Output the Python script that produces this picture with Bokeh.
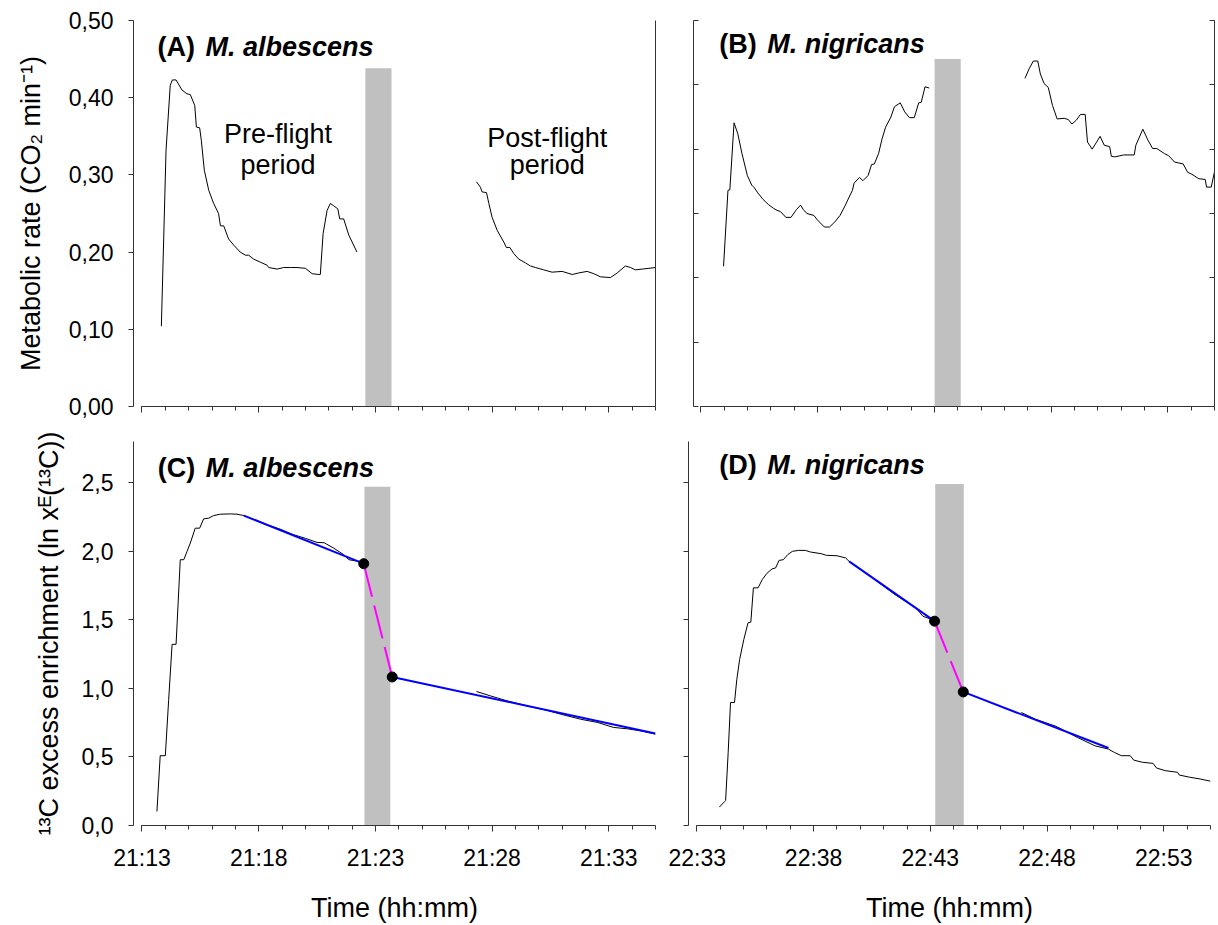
from bokeh.plotting import figure
from bokeh.layouts import column, row
from bokeh.models import Range1d, FixedTicker, Label, LinearAxis, CustomLabelingPolicy
from bokeh.embed import file_html
from bokeh.resources import INLINE

FONT = "Liberation Sans"
AX = "#333333"

# ---------------- data (minutes after the first tick) ----------------
x_ticks = [0, 5, 10, 15, 20]
x_minor = list(range(0, 23))
x_labels_left = ["21:13", "21:18", "21:23", "21:28", "21:33"]
x_labels_right = ["22:33", "22:38", "22:43", "22:48", "22:53"]

yA_ticks = [0.0, 0.1, 0.2, 0.3, 0.4, 0.5]
yA_labels = ["0,00", "0,10", "0,20", "0,30", "0,40", "0,50"]
yB_ticks = [0.0, 0.1, 0.2, 0.3, 0.4, 0.5, 0.6]
yC_ticks = [0.0, 0.5, 1.0, 1.5, 2.0, 2.5]
yC_labels = ["0,0", "0,5", "1,0", "1,5", "2,0", "2,5"]

# Panel A: M. albescens metabolic rate
A_pre_t = [0.83, 1.03, 1.21, 1.30, 1.46, 1.71, 1.93, 2.07, 2.26, 2.33, 2.47, 2.54, 2.67, 2.86,
           3.07, 3.28, 3.36, 3.50, 3.71, 3.93, 4.21, 4.43, 4.57, 4.78, 5.07, 5.36, 5.43, 5.79,
           6.07, 6.36, 6.64, 7.00, 7.29, 7.57, 7.64, 7.76, 7.93, 8.07, 8.21, 8.39, 8.47, 8.64,
           8.86, 9.21]
A_pre_v = [0.104, 0.332, 0.416, 0.423, 0.423, 0.410, 0.405, 0.404, 0.390, 0.362, 0.361, 0.345,
           0.306, 0.280, 0.263, 0.250, 0.234, 0.234, 0.217, 0.209, 0.200, 0.196, 0.196, 0.191,
           0.187, 0.183, 0.180, 0.178, 0.180, 0.180, 0.180, 0.179, 0.172, 0.171, 0.171, 0.224,
           0.254, 0.263, 0.260, 0.256, 0.243, 0.243, 0.222, 0.200]
A_post_t = [14.33, 14.50, 14.57, 14.76, 14.86, 15.00, 15.22, 15.50, 15.61, 15.76, 15.93, 16.14,
            16.43, 16.64, 16.86, 17.21, 17.57, 18.00, 18.43, 18.71, 19.07, 19.36, 19.64, 20.07,
            20.36, 20.71, 20.93, 21.14, 21.43, 22.00]
A_post_v = [0.291, 0.284, 0.278, 0.277, 0.263, 0.245, 0.228, 0.213, 0.206, 0.206, 0.198, 0.191,
            0.186, 0.182, 0.180, 0.177, 0.174, 0.175, 0.171, 0.173, 0.175, 0.172, 0.168, 0.167,
            0.173, 0.182, 0.180, 0.177, 0.178, 0.180]
A_flight = [9.57, 10.69]
A_flight_top = 0.438

# Panel B: M. nigricans metabolic rate
B_pre_t = [0.97, 1.16, 1.24, 1.42, 1.58, 1.76, 1.99, 2.18, 2.29, 2.44, 2.66, 2.89, 3.11, 3.26,
           3.41, 3.64, 3.86, 4.09, 4.27, 4.39, 4.54, 4.84, 4.99, 5.29, 5.51, 5.74, 5.96, 6.19,
           6.33, 6.49, 6.56, 6.79, 6.94, 7.16, 7.31, 7.43, 7.61, 7.76, 7.91, 8.14, 8.29, 8.54,
           8.73, 8.93, 9.14, 9.33, 9.44, 9.60, 9.78]
B_pre_v = [0.218, 0.336, 0.337, 0.441, 0.424, 0.393, 0.359, 0.344, 0.340, 0.332, 0.322, 0.314,
           0.308, 0.305, 0.303, 0.294, 0.294, 0.306, 0.313, 0.306, 0.300, 0.297, 0.290, 0.279,
           0.279, 0.287, 0.297, 0.313, 0.324, 0.336, 0.347, 0.356, 0.351, 0.359, 0.376, 0.377,
           0.393, 0.416, 0.434, 0.450, 0.466, 0.472, 0.458, 0.449, 0.449, 0.472, 0.473, 0.497,
           0.495]
B_post_t = [13.88, 14.06, 14.24, 14.43, 14.54, 14.70, 14.88, 15.06, 15.26, 15.56, 15.74, 15.89,
            16.08, 16.26, 16.46, 16.56, 16.76, 16.95, 17.10, 17.28, 17.51, 17.58, 17.73, 18.11,
            18.56, 18.63, 18.93, 19.15, 19.35, 19.53, 19.86, 20.03, 20.29, 20.66, 20.85, 21.03,
            21.33, 21.60, 21.66, 21.86, 22.00]
B_post_v = [0.510, 0.525, 0.537, 0.537, 0.517, 0.502, 0.496, 0.468, 0.447, 0.448, 0.446, 0.439,
            0.445, 0.454, 0.454, 0.411, 0.400, 0.411, 0.420, 0.406, 0.404, 0.389, 0.388, 0.391,
            0.391, 0.406, 0.431, 0.414, 0.401, 0.401, 0.393, 0.390, 0.380, 0.377, 0.364, 0.361,
            0.354, 0.353, 0.341, 0.341, 0.365]
B_flight = [10.01, 11.13]
B_flight_top = 0.54

# Panel C: M. albescens 13C excess enrichment
C_pre_t = [0.64, 0.78, 1.00, 1.14, 1.29, 1.46, 1.64, 1.79, 1.93, 2.07, 2.28, 2.47, 2.64, 2.86,
           3.07, 3.36, 3.78, 4.07, 4.36, 4.90, 5.36, 5.90, 6.50, 7.00, 7.50, 7.80, 8.21, 8.64,
           8.86, 9.29, 9.50]
C_pre_v = [0.102, 0.509, 0.509, 0.909, 1.321, 1.321, 1.938, 1.938, 1.999, 2.059, 2.168, 2.168,
           2.236, 2.241, 2.260, 2.270, 2.272, 2.270, 2.260, 2.226, 2.193, 2.162, 2.120, 2.094,
           2.064, 2.062, 2.023, 1.975, 1.938, 1.926, 1.909]
C_post_t = [14.33, 14.93, 15.64, 16.50, 17.30, 17.93, 18.79, 19.50, 20.21, 20.80, 21.36, 22.00]
C_post_v = [0.977, 0.945, 0.909, 0.872, 0.842, 0.812, 0.775, 0.752, 0.715, 0.705, 0.690, 0.666]
C_fit_pre_t = [4.36, 9.50]
C_fit_pre_v = [2.260, 1.909]
C_fit_post_t = [10.72, 22.00]
C_fit_post_v = [1.083, 0.671]
C_flight = [9.53, 10.64]
C_flight_top = 2.47

# Panel D: M. nigricans 13C excess enrichment
D_pre_t = [0.96, 1.19, 1.23, 1.34, 1.44, 1.61, 1.71, 1.83, 2.01, 2.19, 2.31, 2.42, 2.62, 2.80,
           2.99, 3.22, 3.37, 3.52, 3.70, 3.89, 4.09, 4.35, 4.65, 4.87, 5.32, 5.55, 6.00, 6.37,
           6.52, 7.43, 8.48, 9.38, 9.68, 9.98, 10.18]
D_pre_v = [0.134, 0.175, 0.182, 0.533, 0.897, 0.897, 1.066, 1.211, 1.357, 1.478, 1.483, 1.733,
           1.733, 1.793, 1.837, 1.871, 1.878, 1.933, 1.938, 1.975, 1.999, 2.006, 2.006, 1.994,
           1.982, 1.970, 1.967, 1.951, 1.926, 1.817, 1.684, 1.587, 1.526, 1.507, 1.490]
D_post_t = [13.90, 14.50, 15.40, 16.30, 17.05, 17.63, 17.88, 18.18, 18.56, 18.71, 19.08, 19.54,
            19.69, 20.06, 20.59, 20.66, 21.11, 21.56, 22.00]
D_post_v = [0.824, 0.775, 0.722, 0.642, 0.581, 0.557, 0.533, 0.509, 0.509, 0.477, 0.461, 0.453,
            0.419, 0.400, 0.388, 0.368, 0.352, 0.339, 0.323]
D_fit_pre_t = [6.52, 10.18]
D_fit_pre_v = [1.926, 1.490]
D_fit_post_t = [11.41, 17.63]
D_fit_post_v = [0.974, 0.565]
D_flight = [10.21, 11.43]
D_flight_top = 2.49

Y_LABEL_TOP = "Metabolic rate (CO\u2082 min\u207b\u00b9)"
Y_LABEL_BOTTOM = "\u00b9\u00b3C excess enrichment (ln x\u1d31(\u00b9\u00b3C))"
X_LABEL = "Time (hh:mm)"

HIDE_LABELS = """
try { for (let i = 0; i < indices.size; i++) { indices.unset(i) } } catch (e) {}
return indices
"""


def no_labels():
    return CustomLabelingPolicy(code=HIDE_LABELS)


def base_fig(width, height, x_start, y_end, mbl, mbr, mbt, mbb):
    p = figure(width=width, height=height, output_backend="svg", toolbar_location=None,
               x_range=Range1d(x_start, 22), y_range=Range1d(0, y_end),
               min_border_left=mbl, min_border_right=mbr,
               min_border_top=mbt, min_border_bottom=mbb)
    p.outline_line_color = None
    p.grid.visible = False
    p.background_fill_color = "white"
    p.border_fill_color = "white"
    return p


def style_x(p, labels):
    ax = p.xaxis[0]
    ax.ticker = FixedTicker(ticks=x_ticks, minor_ticks=x_minor)
    ax.bounds = (0, 22)
    ax.axis_line_color = AX
    ax.major_tick_line_color = AX
    ax.minor_tick_line_color = AX
    ax.major_tick_in = 0
    ax.major_tick_out = 6
    ax.minor_tick_in = 0
    ax.minor_tick_out = 4
    if labels is None:
        ax.major_label_policy = no_labels()
        ax.major_label_text_font_size = "1px"
        ax.major_label_standoff = 0
    else:
        ax.major_label_overrides = {t: s for t, s in zip(x_ticks, labels)}
        ax.major_label_text_font = FONT
        ax.major_label_text_font_size = "23px"
        ax.major_label_text_color = "black"
        ax.major_label_standoff = 13
        ax.axis_label = X_LABEL
        ax.axis_label_text_font = FONT
        ax.axis_label_text_font_size = "27px"
        ax.axis_label_text_font_style = "normal"
        ax.axis_label_text_color = "black"
        ax.axis_label_standoff = 19


def style_y(p, ticks, labels, label_text, tick_in=0, tick_out=5, label_standoff=19):
    ax = p.yaxis[0]
    ax.ticker = FixedTicker(ticks=ticks, minor_ticks=[])
    ax.axis_line_color = AX
    ax.major_tick_line_color = AX
    ax.minor_tick_line_color = None
    ax.major_tick_in = tick_in
    ax.major_tick_out = tick_out
    if labels is None:
        ax.major_label_policy = no_labels()
        ax.major_label_text_font_size = "1px"
        ax.major_label_standoff = 0
    else:
        ax.major_label_overrides = {t: s for t, s in zip(ticks, labels)}
        ax.major_label_text_font = FONT
        ax.major_label_text_font_size = "23px"
        ax.major_label_text_color = "black"
        ax.major_label_standoff = 15
    if label_text:
        ax.axis_label = label_text
        ax.axis_label_text_font = FONT
        ax.axis_label_text_font_size = "27px"
        ax.axis_label_text_font_style = "normal"
        ax.axis_label_text_color = "black"
        ax.axis_label_standoff = label_standoff


def panel_title(p, x, y, tag, species):
    p.add_layout(Label(x=x, y=y, text=tag, text_font=FONT, text_font_size="27px",
                       text_font_style="bold", text_color="black",
                       text_baseline="alphabetic", text_align="left"))
    p.add_layout(Label(x=x, y=y, x_offset=48, text=species, text_font=FONT,
                       text_font_size="27px", text_font_style="bold italic",
                       text_color="black", text_baseline="alphabetic", text_align="left"))


def annot(p, x, y, text):
    p.add_layout(Label(x=x, y=y, text=text, text_font=FONT, text_font_size="27px",
                       text_color="black", text_baseline="alphabetic", text_align="center"))


GREY = "#c0c0c0"

# ---------------- Panel A ----------------
pA = base_fig(668, 428, -0.364, 0.5, 133, 13, 20, 22)
pA.quad(left=[A_flight[0]], right=[A_flight[1]], bottom=[0], top=[A_flight_top],
         fill_color=GREY, line_color=None)
pA.line(A_pre_t, A_pre_v, line_color="black", line_width=1)
pA.line(A_post_t, A_post_v, line_color="black", line_width=1)
style_x(pA, None)
style_y(pA, yA_ticks, yA_labels, Y_LABEL_TOP, label_standoff=20)
pA.add_layout(LinearAxis(ticker=FixedTicker(ticks=[], minor_ticks=[]), axis_line_color=AX,
                         major_tick_line_color=None, minor_tick_line_color=None,
                         major_label_policy=no_labels(),
                         major_label_text_font_size="1px", major_label_standoff=0), "right")
panel_title(pA, 0.66, 0.466, "(A)", "M. albescens")
annot(pA, 5.83, 0.353, "Pre-flight")
annot(pA, 5.83, 0.313, "period")
annot(pA, 17.36, 0.348, "Post-flight")
annot(pA, 17.36, 0.313, "period")

# ---------------- Panel B ----------------
pB = base_fig(550, 428, -0.317, 0.6, 25, 4, 20, 22)
pB.quad(left=[B_flight[0]], right=[B_flight[1]], bottom=[0], top=[B_flight_top],
         fill_color=GREY, line_color=None)
pB.line(B_pre_t, B_pre_v, line_color="black", line_width=1)
pB.line(B_post_t, B_post_v, line_color="black", line_width=1)
style_x(pB, None)
style_y(pB, yB_ticks, None, None, tick_in=5, tick_out=0)
pB.add_layout(LinearAxis(ticker=FixedTicker(ticks=yB_ticks, minor_ticks=[]), axis_line_color=AX,
                         major_tick_line_color=AX, major_tick_in=5, major_tick_out=0,
                         minor_tick_line_color=None, major_label_policy=no_labels(),
                         major_label_text_font_size="1px", major_label_standoff=0), "right")
panel_title(pB, 0.79, 0.563, "(B)", "M. nigricans")

# ---------------- Panel C ----------------
pC = base_fig(668, 497, -0.364, 2.8, 133, 13, 13, 98)
pC.quad(left=[C_flight[0]], right=[C_flight[1]], bottom=[0], top=[C_flight_top],
         fill_color=GREY, line_color=None)
pC.line(C_pre_t, C_pre_v, line_color="black", line_width=1)
pC.line(C_post_t, C_post_v, line_color="black", line_width=1)
pC.line(C_fit_pre_t, C_fit_pre_v, line_color="#0000ff", line_width=2)
pC.line(C_fit_post_t, C_fit_post_v, line_color="#0000ff", line_width=2)
pC.line([C_fit_pre_t[-1], C_fit_post_t[0]], [C_fit_pre_v[-1], C_fit_post_v[0]],
        line_color="#ff00ff", line_width=2, line_dash="34 9")
pC.scatter([C_fit_pre_t[-1], C_fit_post_t[0]], [C_fit_pre_v[-1], C_fit_post_v[0]],
           size=10, fill_color="black", line_color="black")
style_x(pC, x_labels_left)
style_y(pC, yC_ticks, yC_labels, Y_LABEL_BOTTOM, label_standoff=15)
panel_title(pC, 0.68, 2.605, "(C)", "M. albescens")

# ---------------- Panel D ----------------
pD = base_fig(550, 497, -0.36, 2.8, 20, 8, 13, 98)
pD.quad(left=[D_flight[0]], right=[D_flight[1]], bottom=[0], top=[D_flight_top],
         fill_color=GREY, line_color=None)
pD.line(D_pre_t, D_pre_v, line_color="black", line_width=1)
pD.line(D_post_t, D_post_v, line_color="black", line_width=1)
pD.line(D_fit_pre_t, D_fit_pre_v, line_color="#0000ff", line_width=2)
pD.line(D_fit_post_t, D_fit_post_v, line_color="#0000ff", line_width=2)
pD.line([D_fit_pre_t[-1], D_fit_post_t[0]], [D_fit_pre_v[-1], D_fit_post_v[0]],
        line_color="#ff00ff", line_width=2, line_dash="34 9")
pD.scatter([D_fit_pre_t[-1], D_fit_post_t[0]], [D_fit_pre_v[-1], D_fit_post_v[0]],
           size=10, fill_color="black", line_color="black")
style_x(pD, x_labels_right)
style_y(pD, yC_ticks, None, None, tick_in=0, tick_out=5)
panel_title(pD, 0.96, 2.629, "(D)", "M. nigricans")

layout = column(row(pA, pB), row(pC, pD))
open("out.html", "w").write(file_html(layout, INLINE))
